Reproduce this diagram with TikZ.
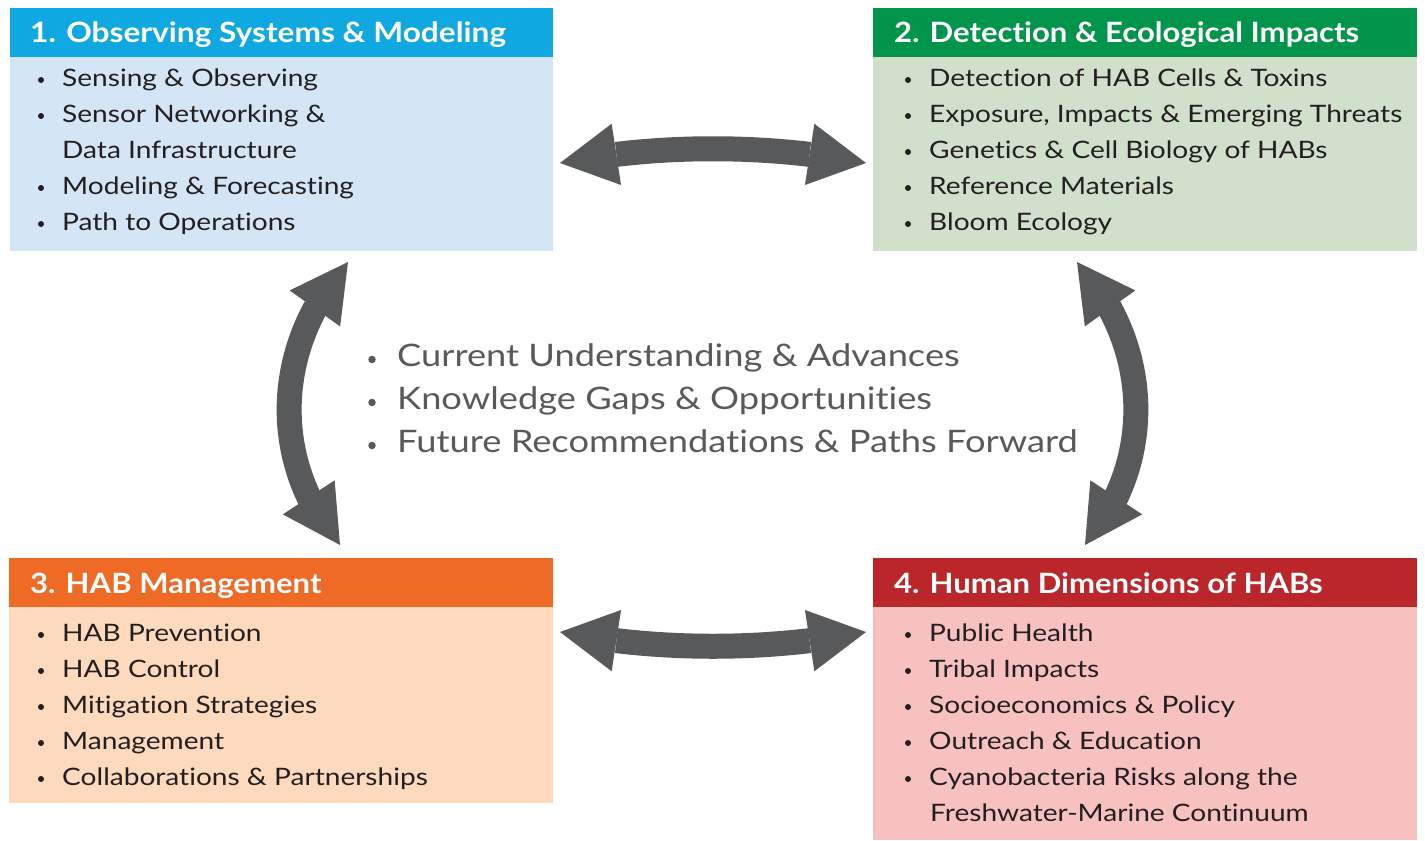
\documentclass[tikz,border=0pt]{standalone}
\usepackage{fontspec}
\setmainfont{Lato}
\newfontfamily\headfont[FakeStretch=1.11,Ligatures=NoCommon]{Lato}
\newfontfamily\headfontwide[FakeStretch=1.13,Ligatures=NoCommon]{Lato}
\newfontfamily\itemfont[FakeStretch=1.17,Ligatures=NoCommon]{Lato}
\newfontfamily\midfont[FakeStretch=1.17,Ligatures=NoCommon]{Lato}
\usetikzlibrary{arrows.meta,bending}
\definecolor{headA}{HTML}{10A8E0}
\definecolor{bodyA}{HTML}{D4E6F6}
\definecolor{headB}{HTML}{00954A}
\definecolor{bodyB}{HTML}{D0E0CB}
\definecolor{headC}{HTML}{EE6A25}
\definecolor{bodyC}{HTML}{FDD9BD}
\definecolor{headD}{HTML}{BA2629}
\definecolor{bodyD}{HTML}{F7C1BF}
\definecolor{arrowgray}{HTML}{58595B}
\definecolor{textdark}{HTML}{231F20}
\tikzset{
  panel/.style={anchor=north west, inner sep=0pt, outer sep=0pt, draw=none},
  headtext/.style={anchor=base west, inner sep=0pt, text=white, font=\headfont\fontsize{28}{28}\selectfont\bfseries},
  itemtext/.style={anchor=base west, inner sep=0pt, text=textdark, font=\itemfont\fontsize{24}{24}\selectfont},
  itembullet/.style={circle, fill=textdark, draw=none, inner sep=0pt, minimum size=6pt, yshift=6pt},
  midtext/.style={anchor=base west, inner sep=0pt, text=arrowgray, font=\midfont\fontsize{31}{31}\selectfont},
  midbullet/.style={circle, fill=arrowgray, draw=none, inner sep=0pt, minimum size=7.5pt, yshift=6.5pt},
  bigarrow/.style={draw=arrowgray, line width=25pt,
    arrows={Triangle[length=57pt,width=62pt,line width=0pt]-Triangle[length=57pt,width=62pt,line width=0pt]}}
}
\begin{document}
\begin{tikzpicture}[x=1pt,y=-1pt]
\useasboundingbox (0,0) rectangle (1425,841);
% panel 1
\node[panel, fill=bodyA, minimum width=543pt, minimum height=243pt] (p1) at (10,8) {};
\node[panel, fill=headA, minimum width=543pt, minimum height=49pt] (h1) at (10,8) {};
\node[headtext, font=\headfontwide\fontsize{28}{28}\selectfont\bfseries] (t1) at (30,42) {1. Observing Systems \& Modeling};
\node[itembullet] (b1a) at (41,86) {};
\node[itemtext] (i1a) at (62,86) {Sensing \& Observing};
\node[itembullet] (b1b) at (41,122) {};
\node[itemtext] (i1b) at (62,122) {Sensor Networking \&};
\node[itemtext] (i1c) at (62,158) {Data Infrastructure};
\node[itembullet] (b1d) at (41,194) {};
\node[itemtext] (i1d) at (62,194) {Modeling \& Forecasting};
\node[itembullet] (b1e) at (41,230) {};
\node[itemtext] (i1e) at (62,230) {Path to Operations};
% panel 2
\node[panel, fill=bodyB, minimum width=544pt, minimum height=243pt] (p2) at (873,8) {};
\node[panel, fill=headB, minimum width=544pt, minimum height=49pt] (h2) at (873,8) {};
\node[headtext] (t2) at (894,42) {2. Detection \& Ecological Impacts};
\node[itembullet] (b2a) at (908,86) {};
\node[itemtext] (i2a) at (929,86) {Detection of HAB Cells \& Toxins};
\node[itembullet] (b2b) at (908,122) {};
\node[itemtext] (i2b) at (929,122) {Exposure, Impacts \& Emerging Threats};
\node[itembullet] (b2c) at (908,158) {};
\node[itemtext] (i2c) at (929,158) {Genetics \& Cell Biology of HABs};
\node[itembullet] (b2d) at (908,194) {};
\node[itemtext] (i2d) at (929,194) {Reference Materials};
\node[itembullet] (b2e) at (908,230) {};
\node[itemtext] (i2e) at (929,230) {Bloom Ecology};
% panel 3
\node[panel, fill=bodyC, minimum width=544pt, minimum height=245pt] (p3) at (9,558) {};
\node[panel, fill=headC, minimum width=544pt, minimum height=49pt] (h3) at (9,558) {};
\node[headtext] (t3) at (30,593) {3. HAB Management};
\node[itembullet] (b3a) at (41,641) {};
\node[itemtext] (i3a) at (62,641) {HAB Prevention};
\node[itembullet] (b3b) at (41,677) {};
\node[itemtext] (i3b) at (62,677) {HAB Control};
\node[itembullet] (b3c) at (41,713) {};
\node[itemtext] (i3c) at (62,713) {Mitigation Strategies};
\node[itembullet] (b3d) at (41,749) {};
\node[itemtext] (i3d) at (62,749) {Management};
\node[itembullet] (b3e) at (41,785) {};
\node[itemtext] (i3e) at (62,785) {Collaborations \& Partnerships};
% panel 4
\node[panel, fill=bodyD, minimum width=544pt, minimum height=282pt] (p4) at (873,558) {};
\node[panel, fill=headD, minimum width=544pt, minimum height=49pt] (h4) at (873,558) {};
\node[headtext] (t4) at (894,593) {4. Human Dimensions of HABs};
\node[itembullet] (b4a) at (908,641) {};
\node[itemtext] (i4a) at (929,641) {Public Health};
\node[itembullet] (b4b) at (908,677) {};
\node[itemtext] (i4b) at (929,677) {Tribal Impacts};
\node[itembullet] (b4c) at (908,713) {};
\node[itemtext] (i4c) at (929,713) {Socioeconomics \& Policy};
\node[itembullet] (b4d) at (908,749) {};
\node[itemtext] (i4d) at (929,749) {Outreach \& Education};
\node[itembullet] (b4e) at (908,785) {};
\node[itemtext] (i4e) at (929,785) {Cyanobacteria Risks along the};
\node[itemtext] (i4f) at (930,821) {Freshwater-Marine Continuum};
% centre text
\node[midbullet] (mb1) at (372,366) {};
\node[midtext] (m1) at (397,366) {Current Understanding \& Advances};
\node[midbullet] (mb2) at (372,409) {};
\node[midtext] (m2) at (397,409) {Knowledge Gaps \& Opportunities};
\node[midbullet] (mb3) at (372,452) {};
\node[midtext] (m3) at (397,452) {Future Recommendations \& Paths Forward};
% arrow ends
\coordinate (topL) at (560,163);
\coordinate (topR) at (866,163);
\coordinate (botL) at (560,632);
\coordinate (botR) at (866,632);
\coordinate (lefT) at (348,262);
\coordinate (lefB) at (340,545);
\coordinate (rigT) at (1077,262);
\coordinate (rigB) at (1085,545);
\draw[bigarrow] (topL) .. controls (660,144) and (766,144) .. (topR);
\draw[bigarrow] (botL) .. controls (660,651) and (766,651) .. (botR);
\draw[bigarrow] (lefT) .. controls (273,345) and (269,462) .. (lefB);
\draw[bigarrow] (rigT) .. controls (1152,345) and (1156,462) .. (rigB);
\end{tikzpicture}
\end{document}
